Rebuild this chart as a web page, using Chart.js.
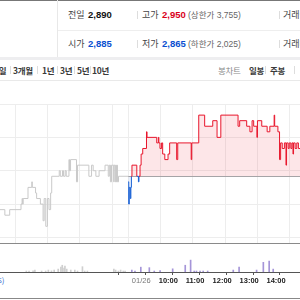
<!DOCTYPE html>
<html>
<head>
<meta charset="utf-8">
<script src="https://cdn.jsdelivr.net/npm/chart.js@4.4.1/dist/chart.umd.min.js"></script>
<style>
html, body { margin: 0; padding: 0; }
body { width: 300px; height: 300px; overflow: hidden; position: relative; background: #fff; font-family: "Noto Sans CJK KR", "Noto Sans", sans-serif; }
.t { position: absolute; white-space: nowrap; line-height: 12px; font-size: 9px; color: #444; }
.n { font-family: "Liberation Sans", Arial, sans-serif; font-weight: bold; font-size: 9.5px; color: #111; }
.red { color: #d9001b; }
.blue { color: #0a4fd0; }
.sub { font-size: 8.5px; color: #666; font-family: "Liberation Sans", "Noto Sans CJK KR", sans-serif; }
.sep { position: absolute; width: 1px; height: 8px; background: #ddd; }
.tab { font-size: 8.5px; font-weight: bold; color: #3a3a3a; letter-spacing: -0.3px; }
.line { position: absolute; left: 0; width: 300px; height: 1px; }
#priceBox { position: absolute; left: 0; top: 100px; width: 300px; height: 150px; }
#volBox { position: absolute; left: 0; top: 243px; width: 300px; height: 55px; }
</style>
</head>
<body>
<div class="line" style="top:0;background:#777"></div>
<div style="position:absolute;left:57px;top:0;width:1px;height:58px;background:#e8e8e8"></div>
<div style="position:absolute;left:58px;top:30px;width:242px;height:1px;background:#eee"></div>
<div class="line" style="top:57px;height:3px;background:#eeeef0"></div>
<div class="line" style="top:80px;background:#e9e9e9"></div>

<span class="t" style="left:68px;top:9px">전일</span>
<span class="t n" style="left:88px;top:9px">2,890</span>
<i class="sep" style="left:137px;top:11px"></i>
<span class="t" style="left:142px;top:9px">고가</span>
<span class="t n red" style="left:162px;top:9px">2,950</span>
<span class="t sub" style="left:188px;top:9px">(상한가 3,755)</span>
<i class="sep" style="left:279px;top:11px"></i>
<span class="t" style="left:283px;top:9px">거래량</span>

<span class="t" style="left:68px;top:38px">시가</span>
<span class="t n blue" style="left:88px;top:38px">2,885</span>
<i class="sep" style="left:137px;top:40px"></i>
<span class="t" style="left:142px;top:38px">저가</span>
<span class="t n blue" style="left:162px;top:38px">2,865</span>
<span class="t sub" style="left:188px;top:38px">(하한가 2,025)</span>
<i class="sep" style="left:279px;top:40px"></i>
<span class="t" style="left:283px;top:38px">거래대금</span>

<span class="t tab" style="left:-6px;top:64px">5일</span>
<i class="sep" style="left:10px;top:66px"></i>
<span class="t tab" style="left:13px;top:64px">3개월</span>
<i class="sep" style="left:37px;top:66px"></i>
<span class="t tab" style="left:42px;top:64px">1년</span>
<i class="sep" style="left:57px;top:66px"></i>
<span class="t tab" style="left:60px;top:64px">3년</span>
<i class="sep" style="left:74px;top:66px"></i>
<span class="t tab" style="left:77px;top:64px">5년</span>
<i class="sep" style="left:90px;top:66px"></i>
<span class="t tab" style="left:92px;top:64px">10년</span>
<span class="t tab" style="left:218px;top:64px;color:#888;font-weight:normal">봉차트</span>
<span class="t tab" style="left:249px;top:64px">일봉</span>
<i class="sep" style="left:265px;top:66px"></i>
<span class="t tab" style="left:270px;top:64px">주봉</span>
<i class="sep" style="left:294px;top:66px"></i>

<span class="t" style="left:-2px;top:274px;font-size:8px;color:#3a6fd0">s)</span>
<div class="line" style="top:298px;background:#888"></div>

<div id="priceBox"><canvas id="price"></canvas></div>
<div id="volBox"><canvas id="vol"></canvas></div>

<script>
// 전일 분봉 (시각, 가격)
var prevTimes = ['11:30', '11:41', '11:50', '12:11', '12:13', '12:14', '12:15', '12:24', '12:31', '12:32',
    '12:38', '12:40', '12:47', '12:52', '12:54', '12:57', '13:00', '13:03', '13:06', '13:08',
    '13:22', '13:24', '13:28', '13:30', '13:33', '13:35', '13:40', '13:41', '13:43', '13:54',
    '13:56', '14:17', '14:22', '14:25', '14:30', '14:36', '14:47', '14:53', '14:55', '14:57',
    '14:59', '15:03', '15:04', '15:06', '15:07', '15:08', '15:09', '15:10', '15:12', '15:30'];
var prevPrices = [2860, 2855, 2860, 2865, 2870, 2865, 2870, 2880, 2885, 2880,
    2875, 2870, 2865, 2850, 2870, 2845, 2870, 2860, 2875, 2890,
    2895, 2890, 2895, 2890, 2895, 2890, 2905, 2895, 2905, 2885,
    2900, 2890, 2900, 2895, 2890, 2895, 2900, 2890, 2900, 2885,
    2900, 2885, 2900, 2885, 2900, 2885, 2900, 2885, 2890, 2890];

// 당일 분봉 (01/26)
var todayTimes = ['09:00', '09:01', '09:02', '09:04', '09:05', '09:06', '09:07', '09:16', '09:19', '09:20',
    '09:22', '09:24', '09:27', '09:34', '09:35', '09:53', '09:56', '09:57', '09:59', '10:02',
    '10:04', '10:08', '10:14', '10:17', '10:30', '10:32', '10:57', '10:58', '11:11', '11:22',
    '11:37', '11:45', '11:52', '12:24', '12:27', '12:40', '12:46', '12:50', '12:53', '12:59',
    '13:00', '13:08', '13:18', '13:23', '13:31', '13:32', '13:38', '13:41', '13:43', '13:46',
    '13:50', '13:53', '13:54', '13:57', '13:59', '14:02', '14:04', '14:06', '14:07', '14:10',
    '14:13', '14:16', '14:20'];
var todayPrices = [2885, 2865, 2880, 2870, 2880, 2890, 2900, 2890, 2885, 2890,
    2900, 2910, 2915, 2930, 2925, 2920, 2925, 2920, 2915, 2920,
    2910, 2905, 2910, 2920, 2905, 2920, 2905, 2920, 2945, 2935,
    2940, 2925, 2945, 2935, 2940, 2935, 2930, 2940, 2935, 2925,
    2940, 2935, 2930, 2935, 2945, 2935, 2930, 2905, 2920, 2915,
    2920, 2900, 2920, 2915, 2920, 2915, 2920, 2910, 2920, 2915,
    2920, 2915, 2920];

// 거래량
var prevVolTimes = ['11:35', '11:41', '11:50', '11:54', '12:09', '12:18', '12:24', '12:31', '12:37', '12:46',
    '12:52', '12:55', '12:59', '13:01', '13:05', '13:14', '13:23', '13:29', '13:40', '13:45',
    '13:51', '14:50', '14:54', '15:00', '15:05', '15:11', '15:15'];
var prevVols = [1000, 1000, 1200, 2000, 1000, 1000, 2000, 1200, 2000, 3000,
    5000, 7000, 4000, 6000, 3000, 2000, 2000, 1000, 5500, 1000,
    1000, 3000, 2000, 1000, 2000, 1000, 1000];
var todayVolTimes = ['09:00', '09:07', '09:20', '09:39', '09:50', '10:03', '10:31', '10:59', '11:11', '11:19',
    '11:24', '11:32', '11:39', '11:49', '12:46', '12:59', '13:38', '13:53', '14:06', '14:15'];
var todayVols = [2000, 1000, 5000, 4500, 1000, 1500, 3300, 7000, 12300, 1000,
    1000, 1000, 1000, 1000, 2000, 5000, 2000, 10000, 11300, 3000];

var prevClose = 2890;
var gridPrices = [2835, 2865, 2895, 2925, 2955];
var prevGridTimes = ['12:00', '13:00', '14:00', '15:00'];
var axisTimes = ['09:00', '10:00', '11:00', '12:00', '13:00', '14:00'];
var axisLabels = ['01/26', '10:00', '11:00', '12:00', '13:00', '14:00'];

// "HH:MM" -> 분 (전일 0~390, 당일 390~)
function toMin(t, day) {
    var p = t.split(':');
    var m = (parseInt(p[0], 10) - 9) * 60 + parseInt(p[1], 10);
    return day == 1 ? m + 390 : m;
}

function toPoints(times, values, day) {
    var arr = [];
    for(var i = 0; i < times.length; i++) {
        arr.push({x: toMin(times[i], day), y: values[i]});
    }
    return arr;
}

var xMin = toMin('11:32', 0);
var xMax = toMin('14:19', 1);
var dayStart = toMin('09:00', 1);

var RED = '#e8162c';
var BLUE = '#1a62d6';

// 전일종가 기준선
var baseLinePlugin = {
    id: 'baseLine',
    beforeDatasetsDraw: function(chart) {
        var ctx = chart.ctx;
        var x0 = chart.scales.x.getPixelForValue(dayStart);
        var y = Math.round(chart.scales.y.getPixelForValue(prevClose)) + 0.5;
        ctx.save();
        ctx.strokeStyle = '#a8a8a8';
        ctx.lineWidth = 1;
        ctx.beginPath();
        ctx.moveTo(x0, y);
        ctx.lineTo(chart.chartArea.right, y);
        ctx.stroke();
        ctx.restore();
    }
};

Chart.defaults.animation = false;
Chart.defaults.responsive = true;
Chart.defaults.maintainAspectRatio = false;

new Chart(document.getElementById('price'), {
    type: 'line',
    data: {
        datasets: [{
            data: toPoints(prevTimes, prevPrices, 0),
            borderColor: '#c9c9c9',
            borderWidth: 1,
            stepped: true,
            pointRadius: 0,
            fill: false
        }, {
            data: toPoints(todayTimes, todayPrices, 1),
            borderColor: RED,
            borderWidth: 1,
            stepped: true,
            pointRadius: 0,
            segment: {
                borderColor: function(c) {
                    var a = c.p0.parsed.y, b = c.p1.parsed.y;
                    if(Math.max(a, b) <= prevClose && Math.min(a, b) < prevClose) {
                        return BLUE;
                    }
                    return RED;
                }
            },
            fill: {
                target: {value: prevClose},
                above: 'rgba(240, 60, 80, 0.13)',
                below: 'rgba(30, 100, 220, 0.10)'
            }
        }]
    },
    options: {
        layout: {padding: {top: 4, bottom: 7, left: 0, right: 0}},
        plugins: {legend: {display: false}, tooltip: {enabled: false}},
        scales: {
            x: {
                type: 'linear',
                min: xMin,
                max: xMax,
                afterBuildTicks: function(scale) {
                    var t = [];
                    prevGridTimes.forEach(function(s) { t.push({value: toMin(s, 0)}); });
                    axisTimes.forEach(function(s) { t.push({value: toMin(s, 1)}); });
                    scale.ticks = t;
                },
                ticks: {display: false},
                grid: {color: '#ededed', drawTicks: false},
                border: {display: true, color: '#8a8a8a'}
            },
            y: {
                min: 2830,
                max: 2955,
                afterBuildTicks: function(scale) {
                    scale.ticks = gridPrices.map(function(v) { return {value: v}; });
                },
                ticks: {display: false},
                grid: {color: '#ededed', drawTicks: false},
                border: {display: false}
            }
        }
    },
    plugins: [baseLinePlugin]
});

new Chart(document.getElementById('vol'), {
    type: 'bar',
    data: {
        datasets: [{
            data: toPoints(prevVolTimes, prevVols, 0),
            backgroundColor: '#cfcfcf',
            barThickness: 1
        }, {
            data: toPoints(todayVolTimes, todayVols, 1),
            backgroundColor: '#a595d8',
            barThickness: 1
        }]
    },
    options: {
        layout: {padding: {top: 0, bottom: 12, left: 0, right: 0}},
        plugins: {legend: {display: false}, tooltip: {enabled: false}},
        datasets: {bar: {grouped: false}},
        scales: {
            x: {
                type: 'linear',
                min: xMin,
                max: xMax,
                afterBuildTicks: function(scale) {
                    scale.ticks = axisTimes.map(function(s) { return {value: toMin(s, 1)}; });
                },
                ticks: {
                    padding: 1,
                    align: 'start',
                    autoSkip: false,
                    maxRotation: 0,
                    font: function(c) {
                        return {family: '"Liberation Sans", Arial, sans-serif', size: 7.5, weight: c.index == 0 ? 'normal' : 'bold'};
                    },
                    color: function(c) { return c.index == 0 ? '#777' : '#222'; },
                    callback: function(v, i) { return axisLabels[i]; }
                },
                grid: {drawOnChartArea: false, drawTicks: true, tickLength: 3, color: '#555'},
                border: {display: true, color: '#555'}
            },
            y: {
                display: false,
                min: 0,
                max: 30000
            }
        }
    }
});
</script>
</body>
</html>
